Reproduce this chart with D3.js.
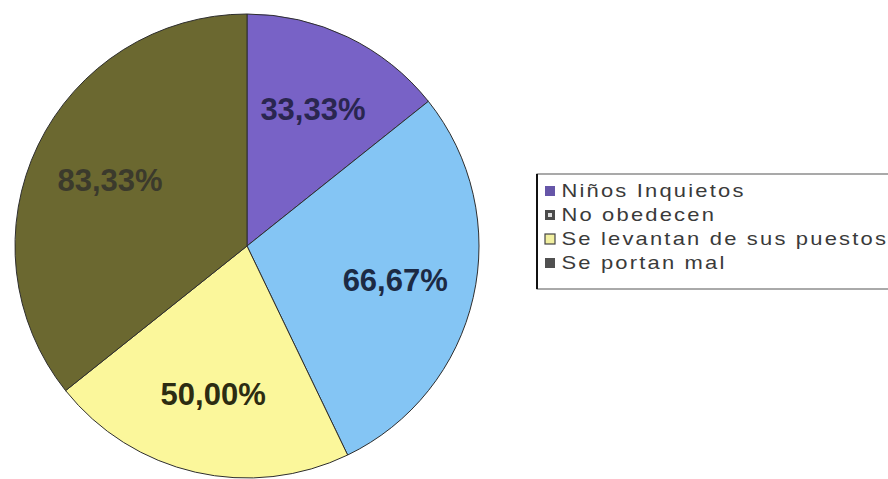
<!DOCTYPE html>
<html>
    <head>
        <meta charset="utf-8">
        <style>
            body {
                margin: 0;
                background: #fff;
                font-family: "Liberation Sans", Arial, sans-serif;
            }
            .slice path {
                stroke: #2e2e2e;
                stroke-width: 1px;
            }
            .slice text {
                text-anchor: middle;
                font-weight: bold;
                font-size: 31px;
            }
            .legend text {
                font-size: 18px;
                fill: #3a3a3a;
                letter-spacing: 1.8px;
            }
        </style>
    </head>
    <body>
        <script src='https://d3js.org/d3.v7.min.js'></script>
        <script>
            // data
            const categories = ['Niños Inquietos', 'No obedecen', 'Se levantan de sus puestos', 'Se portan mal'];
            const values = [33.33, 66.67, 50.00, 83.33];
            const valueLabels = ['33,33%', '66,67%', '50,00%', '83,33%'];

            const sliceColors = ['#7862c6', '#84c5f4', '#fbf79b', '#6b6830'];
            const labelColors = ['#2a2650', '#1c2a44', '#2c2c12', '#3b3a2c'];
            const markerColors = ['#6656a8', '#4a4a4a', '#f2f0a0', '#505050'];

            const width = 888,
                height = 479,
                cx = 247,
                cy = 246,
                radius = 232;

            const svg = d3.select('body').append('svg')
                .attr('width', width)
                .attr('height', height);

            const pie = d3.pie().sort(null);
            const arc = d3.arc().innerRadius(0).outerRadius(radius);
            const labelArc = d3.arc().innerRadius(152).outerRadius(152);

            const g = svg.append('g')
                .attr('transform', `translate(${cx},${cy})`);

            const slice = g.selectAll('g.slice')
                .data(pie(values))
                .enter()
                .append('g').attr('class', 'slice');

            slice.append('path')
                .style('fill', (_, i) => sliceColors[i])
                .attr('d', arc);

            slice.append('text')
                .attr('transform', d => `translate(${labelArc.centroid(d)})`)
                .attr('dy', '0.35em')
                .style('fill', (_, i) => labelColors[i])
                .text((_, i) => valueLabels[i]);

            // legend (right edge runs off the picture)
            const legend = svg.append('g').attr('class', 'legend')
                .attr('transform', 'translate(537,174)');

            const row = d3.scaleBand()
                .domain(categories)
                .range([5, 101]);

            legend.append('rect')
                .attr('x', 0).attr('y', 0)
                .attr('width', 400).attr('height', 115)
                .attr('fill', 'none')
                .attr('stroke', '#555')
                .attr('stroke-width', 1);

            legend.append('line')
                .attr('x1', 0).attr('x2', 0)
                .attr('y1', 0).attr('y2', 115)
                .attr('stroke', '#111')
                .attr('stroke-width', 2);

            const item = legend.selectAll('g.item')
                .data(categories)
                .enter()
                .append('g').attr('class', 'item')
                .attr('transform', d => `translate(0,${row(d) + row.bandwidth() / 2})`);

            item.append('rect')
                .attr('x', 8).attr('y', -5)
                .attr('width', 10).attr('height', 10)
                .attr('fill', (_, i) => markerColors[i])
                .attr('stroke', (_, i) => i === 2 ? '#444' : 'none')
                .attr('stroke-width', 1.2);

            // speckle inside the "No obedecen" marker
            item.filter((_, i) => i === 1).append('rect')
                .attr('x', 11).attr('y', -2)
                .attr('width', 4).attr('height', 4)
                .attr('fill', '#ddd');

            item.append('text')
                .attr('x', 20)
                .attr('dy', '0.36em')
                .attr('transform', 'scale(1.22,1)')
                .text(d => d);
        </script>
    </body>
</html>
